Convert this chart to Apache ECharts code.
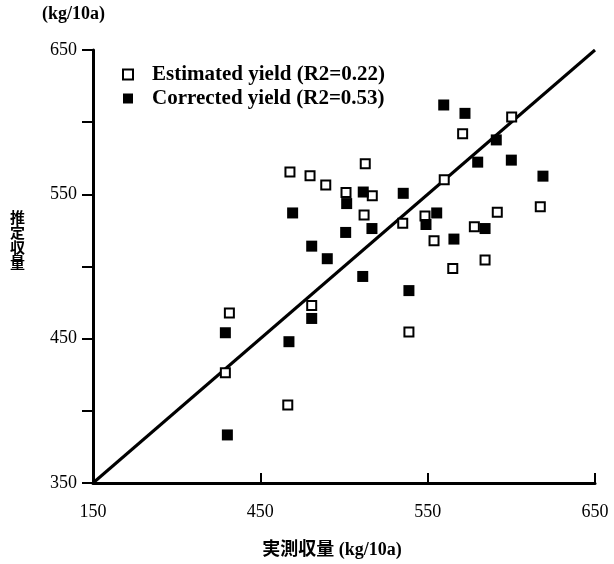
<!DOCTYPE html>
<html>
<head>
<meta charset="utf-8">
<script src="https://cdn.jsdelivr.net/npm/echarts@6/dist/echarts.min.js"></script>
<style>
  html, body { margin: 0; padding: 0; background: #fff; }
  #chart { width: 614px; height: 564px; }
</style>
</head>
<body>
<div id="chart"></div>
<script>
// Estimated yield (open squares): [measured, estimated] in kg/10a
const estimatedYield = [
  [431.5, 467.7], [429.1, 426.3], [466.4, 404.0], [480.7, 473.0],
  [467.7, 565.4], [479.7, 562.9], [489.1, 556.4], [512.7, 571.2],
  [501.2, 551.2], [516.9, 549.1], [512.0, 535.7], [535.1, 530.0],
  [538.8, 454.6], [548.4, 535.0], [553.8, 517.9], [559.9, 560.1],
  [565.0, 498.6], [570.9, 591.9], [577.9, 527.6], [584.3, 504.5],
  [591.6, 537.6], [600.2, 603.6], [617.3, 541.4]
];

// Corrected yield (filled squares): [measured, corrected] in kg/10a
const correctedYield = [
  [429.1, 454.1], [430.3, 383.3], [467.1, 447.9], [469.3, 537.1],
  [480.7, 514.1], [480.7, 464.0], [490.0, 505.4], [501.6, 543.6],
  [501.0, 523.6], [511.5, 551.6], [511.2, 493.1], [516.7, 526.3],
  [535.4, 550.7], [538.8, 483.3], [549.0, 529.1], [555.4, 537.1],
  [559.6, 611.9], [565.7, 519.0], [572.3, 606.1], [579.9, 572.3],
  [584.3, 526.3], [591.0, 587.7], [600.0, 573.7], [618.9, 562.6]
];

// 1:1 reference line end points
const oneToOne = [350, 650];

// Axis tick values and the labels printed at them
const xTickValues = [350, 450, 550, 650];
const xTickLabels = ['150', '450', '550', '650'];
const yTickValues = [350, 450, 550, 650];
const yTickLabels = ['350', '450', '550', '650'];

const seriesNames = ['Estimated yield (R2=0.22)', 'Corrected yield (R2=0.53)'];

const serif = '"Liberation Serif", "Times New Roman", serif';
const cjkBold = '"Liberation Serif", "Noto Sans CJK JP", serif';

const chart = echarts.init(document.getElementById('chart'), null, { renderer: 'canvas' });

chart.setOption({
  backgroundColor: '#ffffff',
  animation: false,
  grid: { left: 93, right: 19, top: 50, bottom: 79 },
  legend: {
    data: seriesNames.map(n => ({ name: n, icon: 'rect' })),
    orient: 'vertical',
    left: 117,
    top: 59,
    itemWidth: 10,
    itemHeight: 10,
    itemGap: 3,
    textStyle: {
      fontFamily: serif, fontWeight: 'bold', fontSize: 21, color: '#000',
      padding: [0, 0, 0, 14]
    }
  },
  xAxis: {
    type: 'value',
    min: 350, max: 650, interval: 100,
    name: '実測収量 (kg/10a)',
    nameLocation: 'middle',
    nameGap: 58,
    nameTextStyle: {
      fontFamily: cjkBold, fontWeight: 'bold', fontSize: 18, color: '#000',
      padding: [0, 24, 0, 0]
    },
    axisLine: { lineStyle: { color: '#000', width: 3 } },
    axisTick: { inside: true, length: 10, lineStyle: { color: '#000', width: 2 } },
    axisLabel: {
      margin: 20,
      fontFamily: serif, fontSize: 18, color: '#000',
      formatter: v => { const i = xTickValues.indexOf(v); return i >= 0 ? xTickLabels[i] : ''; }
    },
    splitLine: { show: false }
  },
  yAxis: {
    type: 'value',
    min: 350, max: 650, interval: 50,
    axisLine: { lineStyle: { color: '#000', width: 3 } },
    axisTick: { inside: false, length: 11, lineStyle: { color: '#000', width: 2 } },
    axisLabel: {
      margin: 16,
      fontFamily: serif, fontSize: 18, color: '#000',
      formatter: v => { const i = yTickValues.indexOf(v); return i >= 0 ? yTickLabels[i] : ''; }
    },
    splitLine: { show: false }
  },
  graphic: [
    {
      type: 'text',
      left: 42, top: 5,
      style: { text: '(kg/10a)', font: 'bold 18px ' + serif, fill: '#000' }
    },
    {
      type: 'text',
      left: 10, top: 210,
      style: {
        text: '推\n定\n収\n量',
        font: 'bold 15px "Noto Sans CJK JP", sans-serif',
        lineHeight: 15,
        fill: '#000'
      }
    }
  ],
  series: [
    {
      name: '1:1',
      type: 'line',
      data: [[oneToOne[0], oneToOne[0]], [oneToOne[1], oneToOne[1]]],
      symbol: 'none',
      lineStyle: { color: '#000', width: 3 },
      z: 1,
      silent: true
    },
    {
      name: seriesNames[0],
      type: 'scatter',
      data: estimatedYield,
      symbol: 'rect',
      symbolSize: 9,
      itemStyle: { color: '#fff', borderColor: '#000', borderWidth: 2, opacity: 1 },
      z: 2
    },
    {
      name: seriesNames[1],
      type: 'scatter',
      data: correctedYield,
      symbol: 'rect',
      symbolSize: 11,
      itemStyle: { color: '#000', opacity: 1 },
      z: 3
    }
  ]
});
</script>
</body>
</html>
